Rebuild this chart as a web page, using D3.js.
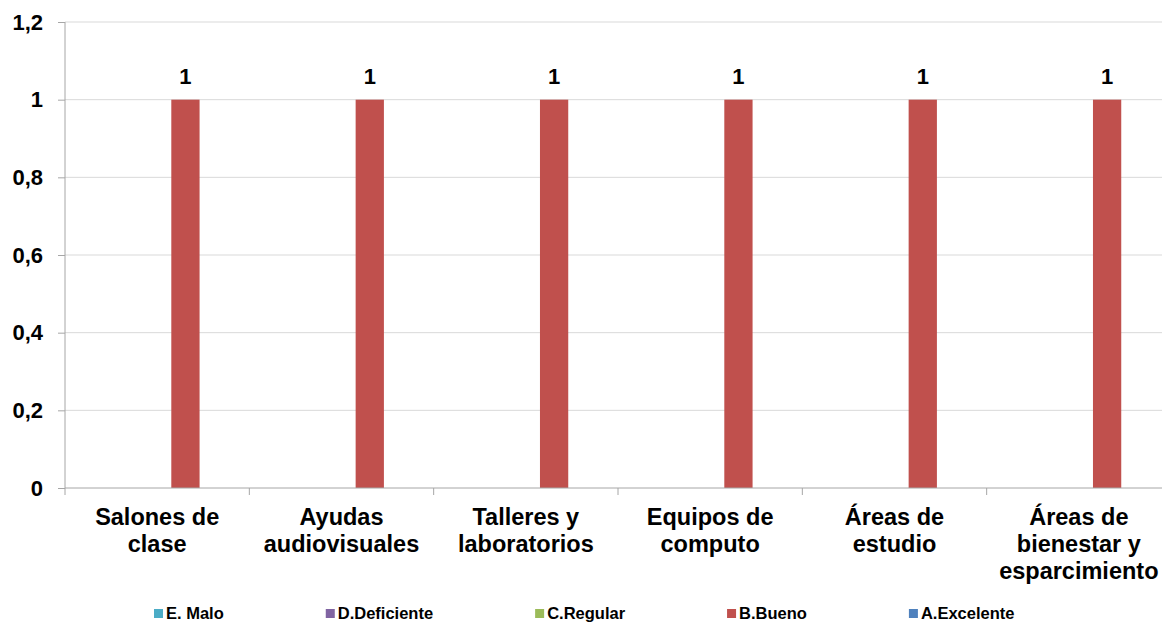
<!DOCTYPE html>
<html>
<head>
<meta charset="utf-8">
<script src="https://cdn.jsdelivr.net/npm/d3@7"></script>
<style>
  body { margin: 0; background: #ffffff; }
  svg { display: block; font-family: "Liberation Sans", Arial, sans-serif; font-weight: bold; }
</style>
</head>
<body>
<script>
// Data
var categories = [
  ["Salones de", "clase"],
  ["Ayudas", "audiovisuales"],
  ["Talleres y", "laboratorios"],
  ["Equipos de", "computo"],
  ["Áreas de", "estudio"],
  ["Áreas de", "bienestar y", "esparcimiento"]
];
var seriesNames = ["E. Malo", "D.Deficiente", "C.Regular", "B.Bueno", "A.Excelente"];
var seriesColors = ["#4BACC6", "#8064A2", "#9BBB59", "#C0504D", "#4F81BD"];
var malo = [0, 0, 0, 0, 0, 0];
var deficiente = [0, 0, 0, 0, 0, 0];
var regular = [0, 0, 0, 0, 0, 0];
var bueno = [1, 1, 1, 1, 1, 1];
var excelente = [0, 0, 0, 0, 0, 0];
var yTicks = [0, 0.2, 0.4, 0.6, 0.8, 1, 1.2];

var seriesValues = [malo, deficiente, regular, bueno, excelente];

var width = 1162, height = 624;
var margin = {left: 65, top: 22, right: -9, bottom: 136};

var svg = d3.select("body").append("svg")
  .attr("width", width).attr("height", height);

var catIndex = d3.range(categories.length);

var x = d3.scaleBand()
  .domain(catIndex)
  .range([margin.left, width - margin.right]);

var inner = d3.scaleBand()
  .domain(d3.range(seriesNames.length))
  .range([0, x.bandwidth()])
  .paddingInner(0)
  .paddingOuter(0.76);

var y = d3.scaleLinear()
  .domain([0, 1.2])
  .range([height - margin.bottom, margin.top]);

var fmt = function(d) { return String(d).replace(".", ","); };

// Gridlines
svg.append("g").selectAll("line")
  .data(yTicks.filter(function(d) { return d > 0; }))
  .enter().append("line")
    .attr("x1", margin.left).attr("x2", width)
    .attr("y1", function(d) { return y(d); })
    .attr("y2", function(d) { return y(d); })
    .attr("stroke", "#d9d9d9").attr("stroke-width", 1);

// Bars
var groups = svg.append("g").selectAll("g")
  .data(seriesValues)
  .enter().append("g")
    .attr("fill", function(d, i) { return seriesColors[i]; });

groups.each(function(vals, si) {
  d3.select(this).selectAll("rect")
    .data(vals.map(function(v, ci) { return {v: v, c: ci}; }).filter(function(d) { return d.v > 0; }))
    .enter().append("rect")
      .attr("x", function(d) { return x(d.c) + inner(si); })
      .attr("width", inner.bandwidth())
      .attr("y", function(d) { return y(d.v); })
      .attr("height", function(d) { return y(0) - y(d.v); });

  // Data labels
  d3.select(this.parentNode).append("g").selectAll("text")
    .data(vals.map(function(v, ci) { return {v: v, c: ci}; }).filter(function(d) { return d.v > 0; }))
    .enter().append("text")
      .attr("x", function(d) { return x(d.c) + inner(si) + inner.bandwidth() / 2; })
      .attr("y", function(d) { return y(d.v) - 16; })
      .attr("text-anchor", "middle")
      .attr("font-size", "22px")
      .attr("fill", "#000")
      .text(function(d) { return fmt(d.v); });
});

// Y axis
var yAxis = d3.axisLeft(y).tickValues(yTicks).tickSize(7).tickPadding(15).tickFormat(fmt);
var gy = svg.append("g")
  .attr("transform", "translate(" + margin.left + ",0)")
  .call(yAxis);
gy.select(".domain").attr("stroke", "#a6a6a6").attr("d", "M0," + y(1.2) + "V" + y(0));
gy.selectAll(".tick line").attr("stroke", "#a6a6a6");
gy.selectAll(".tick text").attr("font-size", "22px").attr("font-family", "Liberation Sans, Arial, sans-serif")
  .attr("font-weight", "bold").attr("fill", "#000");

// X axis
var gx = svg.append("g").attr("transform", "translate(0," + y(0) + ")");
gx.append("line")
  .attr("x1", margin.left).attr("x2", width)
  .attr("stroke", "#a6a6a6");
gx.selectAll("line.tk")
  .data(catIndex)
  .enter().append("line")
    .attr("class", "tk")
    .attr("x1", function(d) { return x(d); })
    .attr("x2", function(d) { return x(d); })
    .attr("y1", 0).attr("y2", 7)
    .attr("stroke", "#a6a6a6");

var labels = gx.selectAll("text.cat")
  .data(catIndex)
  .enter().append("text")
    .attr("class", "cat")
    .attr("text-anchor", "middle")
    .attr("font-size", "23.5px")
    .attr("fill", "#000");
labels.each(function(ci) {
  var t = d3.select(this);
  categories[ci].forEach(function(line, li) {
    t.append("tspan")
      .attr("x", x(ci) + x.bandwidth() / 2)
      .attr("y", 37 + li * 27)
      .text(line);
  });
});

// Legend
var legend = svg.append("g").attr("transform", "translate(0,619)");
var lx = 154;
seriesNames.forEach(function(name, i) {
  var item = legend.append("g").attr("transform", "translate(" + lx + ",0)");
  item.append("rect")
    .attr("x", 0).attr("y", -10).attr("width", 9).attr("height", 9)
    .attr("fill", seriesColors[i]);
  var txt = item.append("text")
    .attr("x", 12).attr("y", 0)
    .attr("font-size", "16.5px")
    .attr("fill", "#000")
    .text(name);
  lx += 12 + txt.node().getComputedTextLength() + 102;
});
</script>
</body>
</html>
